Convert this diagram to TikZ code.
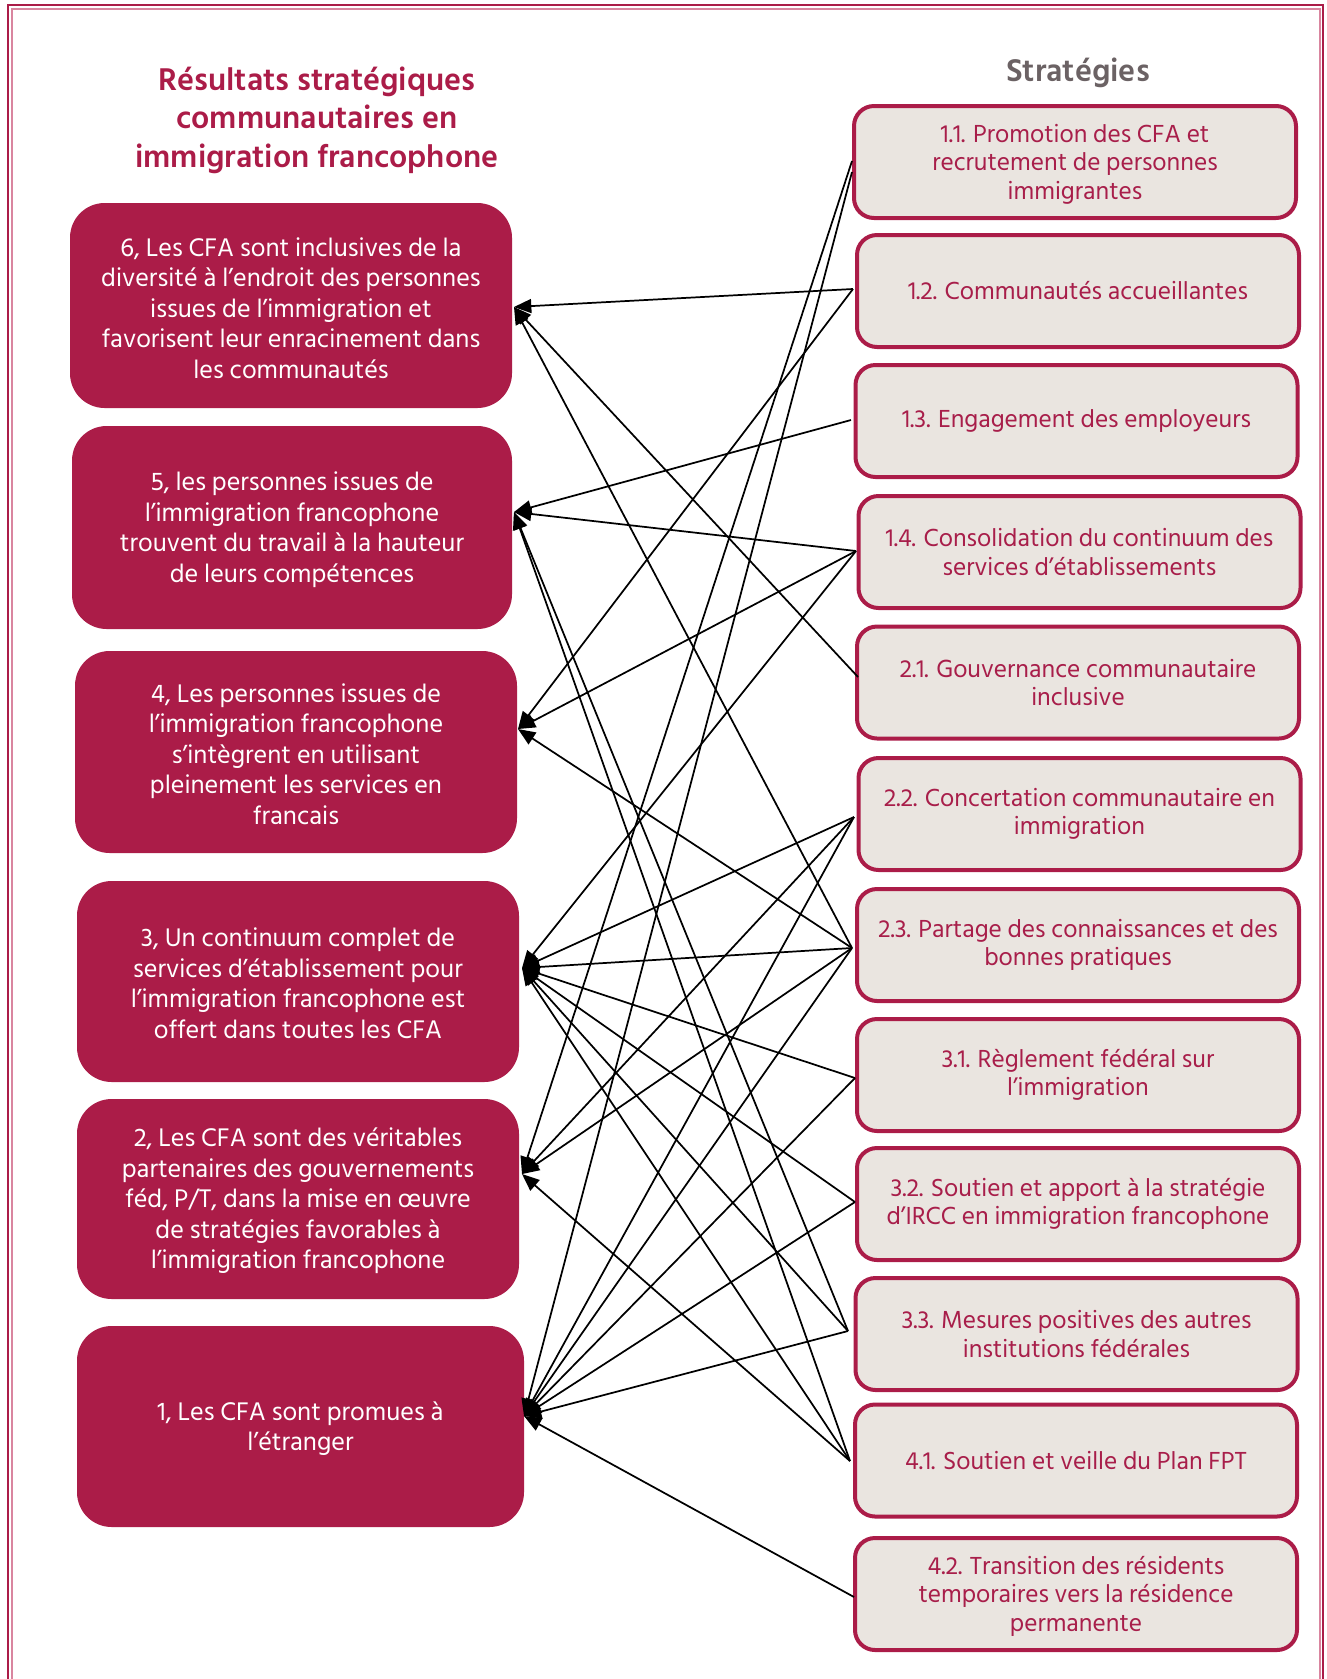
\documentclass[tikz,border=0pt]{standalone}
\usepackage{fontspec}
\usetikzlibrary{arrows.meta}
\newfontfamily\hind{Hind Siliguri}
\definecolor{crim}{HTML}{AB1C48}
\definecolor{crimtext}{HTML}{A81E4A}
\definecolor{beige}{HTML}{EAE5E0}
\definecolor{pinkline}{HTML}{D9859F}
\definecolor{greytitle}{HTML}{6B6264}
\begin{document}
\begin{tikzpicture}[x=0.75pt,y=-0.75pt,
  res/.style={rounded corners=26pt, fill=crim, text=white, align=center,
    inner sep=0pt, font=\hind\fontsize{19.6}{22.9}\selectfont},
  strat/.style={rounded corners=15pt, draw=crim, line width=3pt, fill=beige,
    text=crimtext, align=center, inner sep=0pt, minimum width=331.5pt,
    minimum height=84pt, font=\hind\fontsize{19}{21.4}\selectfont},
  title/.style={align=center, font=\hind\bfseries\fontsize{24.2}{28.9}\selectfont},
  link/.style={line width=1.3pt, -{Triangle[length=13pt,width=10.5pt]}}
]
\useasboundingbox (0,0) rectangle (1327,1679);
% frame
\draw[crim, line width=1.8pt] (8,5) rectangle (1323,1720);
\draw[pinkline, line width=1.5pt] (11.5,8.5) rectangle (1319.5,1720);

% titles
\node[title, text=crim] (tl) at (317,120) {Résultats stratégiques\\communautaires en\\immigration francophone};
\node[title, text=greytitle] (tr) at (1078,73) {Stratégies};

% left boxes
\node[res, minimum width=331.5pt, minimum height=153.75pt] (b6) at (291,305.5)
  {\rule{0pt}{18pt}6, Les CFA sont inclusives de la\\diversité à l’endroit des personnes\\issues de l’immigration et\\favorisent leur enracinement dans\\les communautés};
\node[res, minimum width=330pt, minimum height=152.25pt] (b5) at (292,527.5)
  {\rule{0pt}{17pt}5, les personnes issues de\\l’immigration francophone\\trouvent du travail à la hauteur\\de leurs compétences};
\node[res, minimum width=331.5pt, minimum height=151.5pt] (b4) at (296,752)
  {\rule{0pt}{17pt}4, Les personnes issues de\\l’immigration francophone\\s’intègrent en utilisant\\pleinement les services en\\francais};
\node[res, minimum width=331.5pt, minimum height=150.75pt] (b3) at (298,981.5)
  {\rule{0pt}{17pt}3, Un continuum complet de\\services d’établissement pour\\l’immigration francophone est\\offert dans toutes les CFA};
\node[res, minimum width=331.5pt, minimum height=150pt] (b2) at (298,1199)
  {\rule{0pt}{17pt}2, Les CFA sont des véritables\\partenaires des gouvernements\\féd, P/T, dans la mise en œuvre\\de stratégies favorables à\\l’immigration francophone};
\node[res, minimum width=335.25pt, minimum height=150.75pt] (b1) at (300.5,1426.5)
  {\rule{0pt}{17pt}1, Les CFA sont promues à\\l’étranger};

% right boxes
\node[strat] (s11) at (1075,162) {\rule{0pt}{17pt}1.1. Promotion des CFA et\\recrutement de personnes\\immigrantes};
\node[strat] (s12) at (1078,291) {1.2. Communautés accueillantes};
\node[strat] (s13) at (1076.5,421) {1.3. Engagement des employeurs};
\node[strat] (s14) at (1079.5,552) {1.4. Consolidation du continuum des\\services d’établissements};
\node[strat] (s21) at (1078,682.5) {2.1. Gouvernance communautaire\\inclusive};
\node[strat] (s22) at (1079.5,814) {2.2. Concertation communautaire en\\immigration};
\node[strat] (s23) at (1078,945) {2.3. Partage des connaissances et des\\bonnes pratiques};
\node[strat] (s31) at (1078,1075) {3.1. Règlement fédéral sur\\l’immigration};
\node[strat] (s32) at (1078,1204) {3.2. Soutien et apport à la stratégie\\d’IRCC en immigration francophone};
\node[strat] (s33) at (1076.5,1334) {3.3. Mesures positives des autres\\institutions fédérales};
\node[strat] (s41) at (1076,1460.5) {4.1. Soutien et veille du Plan FPT};
\node[strat] (s42) at (1076,1594) {\rule{0pt}{17pt}4.2. Transition des résidents\\temporaires vers la résidence\\permanente};

% connector end points
\coordinate (t6) at (514,307);
\coordinate (t5) at (514,512);
\coordinate (t4) at (518,729);
\coordinate (t3) at (522,968);
\coordinate (t2) at (522,1174);
\coordinate (t1) at (524,1416);
\coordinate (e11a) at (852,161);
\coordinate (e11b) at (852,172);
\coordinate (e12) at (853,289);
\coordinate (e13) at (851,420);
\coordinate (e14) at (856,551);
\coordinate (e21) at (858,677);
\coordinate (e22) at (854,817);
\coordinate (e23) at (852,948);
\coordinate (e31) at (855,1078);
\coordinate (e32) at (855,1202);
\coordinate (e33) at (848,1331);
\coordinate (e41) at (850,1461);
\coordinate (e42) at (854,1597);

% connectors
\draw[link] (e11a) -- (t2);
\draw[link] (e11b) -- (t1);
\draw[link] (e12) -- (t6);
\draw[link] (e12) -- (t4);
\draw[link] (e13) -- (t5);
\draw[link] (e14) -- (t5);
\draw[link] (e14) -- (t4);
\draw[link] (e14) -- (t3);
\draw[link] (e21) -- (t6);
\draw[link] (e22) -- (t3);
\draw[link] (e22) -- (t2);
\draw[link] (e22) -- (t1);
\draw[link] (e23) -- (t6);
\draw[link] (e23) -- (t4);
\draw[link] (e23) -- (t3);
\draw[link] (e23) -- (t2);
\draw[link] (e23) -- (t1);
\draw[link] (e31) -- (t3);
\draw[link] (e31) -- (t1);
\draw[link] (e32) -- (t3);
\draw[link] (e32) -- (t1);
\draw[link] (e33) -- (t5);
\draw[link] (e33) -- (t3);
\draw[link] (e33) -- (t1);
\draw[link] (e41) -- (t5);
\draw[link] (e41) -- (t3);
\draw[link] (e41) -- (t2);
\draw[link] (e42) -- (t1);
\end{tikzpicture}
\end{document}
